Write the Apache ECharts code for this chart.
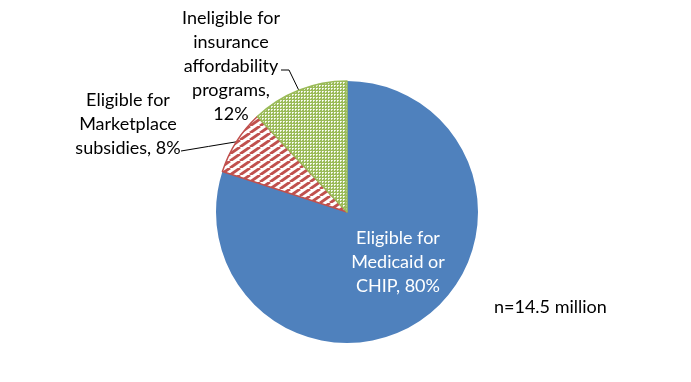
<!DOCTYPE html>
<html><head><meta charset="utf-8">
<script src="https://cdn.jsdelivr.net/npm/echarts@6/dist/echarts.min.js"></script>
<style>html,body{margin:0;padding:0;background:#fff}#c{width:691px;height:382px}</style>
</head><body><div id="c"></div>
<script>
const categories = ['Eligible for\nMedicaid or\nCHIP', 'Eligible for\nMarketplace\nsubsidies', 'Ineligible for\ninsurance\naffordability\nprograms'];
const values = [80, 8, 12];
const note = 'n=14.5 million';

function stripePattern() {
  const w = 10, h = 7;
  const c = document.createElement('canvas'); c.width = w; c.height = h;
  const g = c.getContext('2d');
  g.fillStyle = '#fff'; g.fillRect(0, 0, w, h);
  g.strokeStyle = '#C0504D'; g.lineWidth = 2.9;
  for (const o of [-w, 0, w]) { g.beginPath(); g.moveTo(o, h); g.lineTo(o + w, 0); g.stroke(); }
  return c;
}
function dotPattern() {
  const c = document.createElement('canvas'); c.width = 3; c.height = 3;
  const g = c.getContext('2d');
  g.fillStyle = '#9BBB59'; g.fillRect(0, 0, 3, 3);
  g.fillStyle = '#fff'; g.fillRect(1, 1, 1, 1);
  g.fillStyle = '#E6EFD4'; g.fillRect(2, 1, 1, 1); g.fillRect(1, 2, 1, 1);
  return c;
}
const font = 'Lato';
const chart = echarts.init(document.getElementById('c'));
const labelPos = [{x: 398, y: 262}, {x: 128, y: 124, lx: 181, ly: 151}, {x: 231, y: 66, lx: 281, ly: 70, mx: 289, my: 70}];
chart.setOption({
  animation: false,
  graphic: [{type: 'text', left: 494, top: 298, style: {text: note, font: '18px ' + font, fill: '#000'}}],
  series: [{
    type: 'pie', center: [347, 212], radius: 131, startAngle: 90, clockwise: true,
    label: {fontFamily: font, fontSize: 18, lineHeight: 24, color: '#000', align: 'center',
      formatter: p => p.name + (p.dataIndex === 2 ? ',\n' : ', ') + p.value + '%'},
    labelLine: {show: true, length: 10, length2: 10, lineStyle: {color: '#000', width: 1}},
    labelLayout: function (params) {
      const lp = labelPos[params.dataIndex];
      if (lp.lx === undefined) return {x: lp.x, y: lp.y, align: 'center', verticalAlign: 'middle'};
      const pts = params.labelLinePoints;
      const p0 = pts[0];
      const p2 = [lp.lx, lp.ly];
      const p1 = lp.mx !== undefined ? [lp.mx, lp.my] : [(p0[0] + p2[0]) / 2, (p0[1] + p2[1]) / 2];
      return {x: lp.x, y: lp.y, align: 'center', verticalAlign: 'middle', labelLinePoints: [p0, p1, p2]};
    },
    data: [
      {name: categories[0], value: values[0], itemStyle: {color: '#4F81BD'},
        label: {position: 'inside', color: '#fff'}, labelLine: {show: false}},
      {name: categories[1], value: values[1], itemStyle: {color: {image: stripePattern(), repeat: 'repeat'}, borderColor: '#C0504D', borderWidth: 1.5}},
      {name: categories[2], value: values[2], itemStyle: {color: {image: dotPattern(), repeat: 'repeat'}, borderColor: '#9BBB59', borderWidth: 1.5}}
    ]
  }]
});
</script></body></html>
